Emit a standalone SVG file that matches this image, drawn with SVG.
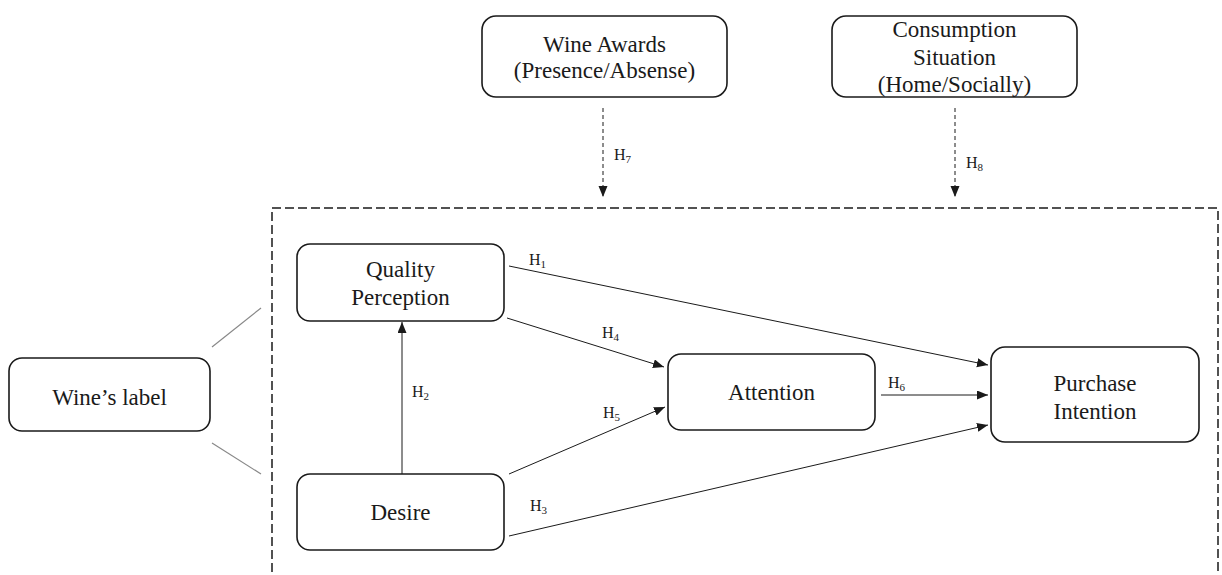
<svg xmlns="http://www.w3.org/2000/svg" width="1222" height="575" viewBox="0 0 1222 575">
<style>
.box{fill:#fff;stroke:#1a1a1a;stroke-width:1.6}
.t{font-family:"Liberation Serif","Times New Roman",serif;font-size:23px;fill:#1a1a1a;text-anchor:middle}
.h{font-family:"Liberation Serif","Times New Roman",serif;font-size:16px;fill:#1a1a1a}
.s{font-size:11px}
.c{stroke:#1a1a1a;stroke-width:1;fill:none}
.g{stroke:#888;stroke-width:1.2;fill:none}
.d{stroke:#1a1a1a;stroke-width:1;stroke-dasharray:4 3;fill:none}
</style>
<defs>
<marker id="arr" markerUnits="userSpaceOnUse" markerWidth="12" markerHeight="10" refX="11" refY="4.5" orient="auto">
<path d="M0,0 L11,4.5 L0,9 z" fill="#1a1a1a"/>
</marker>
</defs>
<rect width="1222" height="575" fill="#fff"/>
<g id="moderation-frame">
<rect x="272" y="208" width="946" height="380" fill="none" stroke="#1a1a1a" stroke-width="1.5" stroke-dasharray="9 4"/>
</g>
<g id="connectors">
<line class="g" x1="212" y1="347" x2="261" y2="308"/>
<line class="g" x1="212" y1="443" x2="261" y2="474"/>
<line class="d" x1="603" y1="108" x2="603" y2="197" marker-end="url(#arr)"/>
<line class="d" x1="955" y1="108" x2="955" y2="197" marker-end="url(#arr)"/>
<line class="c" x1="402" y1="474" x2="402" y2="322" marker-end="url(#arr)"/>
<line class="c" x1="509" y1="266" x2="988" y2="365" marker-end="url(#arr)"/>
<line class="c" x1="507" y1="318" x2="664" y2="367" marker-end="url(#arr)"/>
<line class="c" x1="509" y1="474" x2="665" y2="407" marker-end="url(#arr)"/>
<line class="c" x1="509" y1="536" x2="988" y2="425" marker-end="url(#arr)"/>
<line class="c" x1="881" y1="395" x2="988" y2="395" marker-end="url(#arr)"/>
<text class="h" x="529" y="265">H<tspan class="s" dy="3">1</tspan></text>
<text class="h" x="412" y="397">H<tspan class="s" dy="3">2</tspan></text>
<text class="h" x="530" y="511">H<tspan class="s" dy="3">3</tspan></text>
<text class="h" x="602" y="338">H<tspan class="s" dy="3">4</tspan></text>
<text class="h" x="603" y="418">H<tspan class="s" dy="3">5</tspan></text>
<text class="h" x="888" y="388">H<tspan class="s" dy="3">6</tspan></text>
<text class="h" x="614" y="160">H<tspan class="s" dy="3">7</tspan></text>
<text class="h" x="966" y="168">H<tspan class="s" dy="3">8</tspan></text>
</g>
<g id="wine-awards">
<rect class="box" x="482" y="16" width="245" height="81" rx="14"/>
<text class="t" x="604.5" y="52">Wine Awards</text>
<text class="t" x="604.5" y="78">(Presence/Absense)</text>
</g>
<g id="consumption-situation">
<rect class="box" x="832" y="16" width="245" height="81" rx="14"/>
<text class="t" x="954.5" y="37">Consumption</text>
<text class="t" x="954.5" y="65">Situation</text>
<text class="t" x="954.5" y="92">(Home/Socially)</text>
</g>
<g id="wines-label">
<rect class="box" x="9" y="358" width="201" height="73" rx="13"/>
<text class="t" x="109.5" y="405">Wine’s label</text>
</g>
<g id="quality-perception">
<rect class="box" x="297" y="244" width="207" height="77" rx="13"/>
<text class="t" x="400.5" y="277">Quality</text>
<text class="t" x="400.5" y="305">Perception</text>
</g>
<g id="desire">
<rect class="box" x="297" y="474" width="207" height="76" rx="13"/>
<text class="t" x="400.5" y="520">Desire</text>
</g>
<g id="attention">
<rect class="box" x="668" y="354" width="207" height="76" rx="13"/>
<text class="t" x="771.5" y="400">Attention</text>
</g>
<g id="purchase-intention">
<rect class="box" x="991" y="347" width="208" height="95" rx="14"/>
<text class="t" x="1095" y="391">Purchase</text>
<text class="t" x="1095" y="419">Intention</text>
</g>
</svg>
